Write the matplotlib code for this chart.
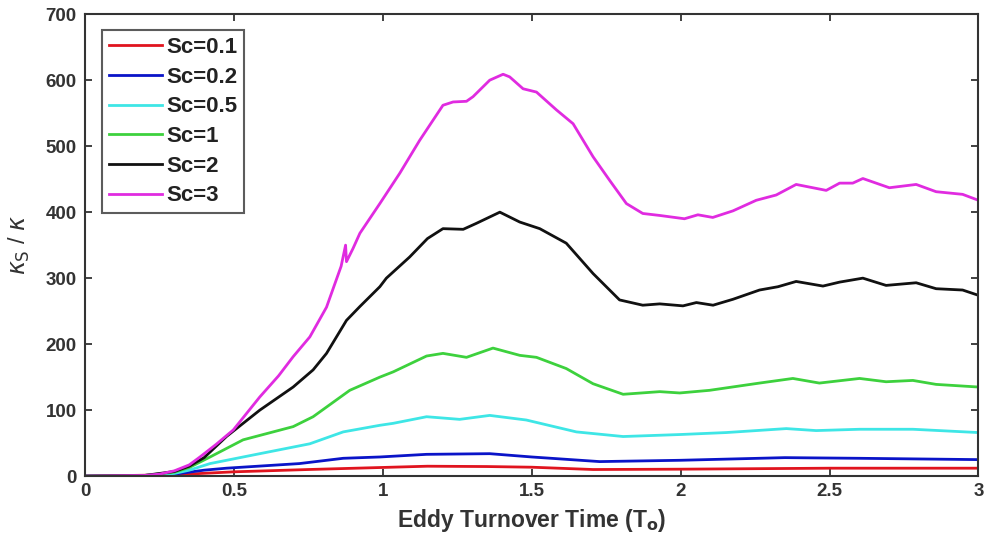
import matplotlib
matplotlib.use('Agg')
import matplotlib.pyplot as plt

plt.rcParams['font.family'] = ['Liberation Sans', 'DejaVu Sans']
plt.rcParams['mathtext.fontset'] = 'dejavusans'

# Sc = 0.1
t_01 = [0, 0.3, 0.5, 0.75, 0.99, 1.15, 1.35, 1.5, 1.706, 2.0, 2.5, 3.0]
k_01 = [0, 2, 6.5, 10, 13, 15, 14.5, 13.5, 10, 10.5, 12, 12]

# Sc = 0.2
t_02 = [0, 0.2, 0.3, 0.4, 0.475, 0.72, 0.867, 0.99, 1.147, 1.359, 1.5, 1.728, 2.0, 2.35, 2.6, 3.0]
k_02 = [0, 0.3, 3, 9, 12, 19, 27, 29, 33, 34, 29, 22, 24, 28, 27, 25]

# Sc = 0.5
t_05 = [0, 0.2, 0.3, 0.35, 0.42, 0.587, 0.755, 0.867, 0.99, 1.035, 1.147, 1.258, 1.359,
        1.482, 1.65, 1.807, 1.997, 2.153, 2.355, 2.455, 2.601, 2.78, 3.0]
k_05 = [0, 0.5, 4, 9, 19, 34, 49, 67, 77, 80, 90, 86, 92,
        85, 67, 60, 63, 66, 72, 69, 71, 71, 66]

# Sc = 1
t_1 = [0, 0.2, 0.3, 0.35, 0.42, 0.531, 0.699, 0.766, 0.889, 0.99, 1.035, 1.147, 1.202,
       1.281, 1.37, 1.46, 1.516, 1.616, 1.706, 1.807, 1.93, 1.997, 2.097, 2.265, 2.377,
       2.466, 2.601, 2.69, 2.78, 2.858, 3.0]
k_1 = [0, 1, 6, 13, 29, 55, 75, 90, 130, 150, 158, 182, 186,
       180, 194, 183, 180, 163, 140, 124, 128, 126, 130, 141, 148,
       141, 148, 143, 145, 139, 135]

# Sc = 2
t_2 = [0, 0.2, 0.3, 0.35, 0.4, 0.475, 0.587, 0.699, 0.766, 0.811, 0.878, 0.923, 0.99,
       1.012, 1.09, 1.15, 1.202, 1.27, 1.314, 1.393, 1.46, 1.527, 1.616, 1.706, 1.795,
       1.873, 1.93, 2.008, 2.053, 2.109, 2.176, 2.265, 2.327, 2.388, 2.478, 2.534, 2.612,
       2.69, 2.791, 2.858, 2.947, 3.0]
k_2 = [0, 1, 7, 15, 28, 60, 100, 135, 161, 186, 236, 257, 287,
       300, 332, 360, 375, 374, 383, 400, 385, 375, 353, 307, 267,
       259, 261, 258, 263, 259, 268, 282, 287, 295, 288, 294, 300,
       289, 293, 284, 282, 274]

# Sc = 3
t_3 = [0, 0.2, 0.25, 0.3, 0.35, 0.386, 0.44, 0.498, 0.587, 0.65, 0.699, 0.755, 0.811,
       0.86, 0.875, 0.878, 0.9, 0.923, 0.99, 1.057, 1.124, 1.202, 1.236, 1.281, 1.303,
       1.359, 1.404, 1.426, 1.471, 1.516, 1.583, 1.639, 1.706, 1.762, 1.818, 1.873, 1.93,
       2.013, 2.058, 2.108, 2.176, 2.254, 2.321, 2.388, 2.489, 2.534, 2.578, 2.612, 2.701,
       2.791, 2.858, 2.947, 3.0]
k_3 = [0, 1, 3, 8, 17, 29, 48, 70, 120, 152, 181, 211, 256,
       318, 350, 325, 345, 368, 413, 459, 509, 562, 567, 568, 575,
       600, 609, 605, 587, 582, 555, 534, 484, 448, 413, 398, 395,
       390, 396, 392, 402, 418, 426, 442, 433, 444, 444, 451, 437,
       442, 431, 427, 418]

series = [
    (t_01, k_01, 'Sc=0.1', '#e0141e'),
    (t_02, k_02, 'Sc=0.2', '#0a14c8'),
    (t_05, k_05, 'Sc=0.5', '#3ee6e6'),
    (t_1, k_1, 'Sc=1', '#3dd13d'),
    (t_2, k_2, 'Sc=2', '#111111'),
    (t_3, k_3, 'Sc=3', '#e02be0'),
]

fig = plt.figure(figsize=(9.85, 5.46), dpi=100)
ax = fig.add_axes([0.0863, 0.128, 0.907, 0.846])

for t, k, label, color in series:
    ax.plot(t, k, color=color, lw=2, label=label)

ax.set_xlim(0, 3)
ax.set_ylim(0, 700)
ax.set_xticks([0, 0.5, 1, 1.5, 2, 2.5, 3])
ax.set_xticklabels(['0', '0.5', '1', '1.5', '2', '2.5', '3'])
ax.set_yticks(range(0, 701, 100))

ax.tick_params(direction='in', length=5, width=1.3, top=True, right=True,
               labelsize=13.5, colors='#333333')
ax.tick_params(axis='x', pad=5)
ax.tick_params(axis='y', pad=6)
for lab in ax.get_xticklabels() + ax.get_yticklabels():
    lab.set_fontweight('bold')
for s in ax.spines.values():
    s.set_linewidth(1.5)
    s.set_color('#333333')

ax.set_xlabel(r'Eddy Turnover Time (T$_\mathbf{o}$)', fontsize=16.5, fontweight='bold',
              color='#333333', labelpad=5)
ax.set_ylabel(r'$\kappa_\mathrm{S}$ / $\kappa$', fontsize=17,
              color='#333333', labelpad=10)

leg = ax.legend(loc='upper left', bbox_to_anchor=(0.019, 0.965),
                prop={'weight': 'bold', 'size': 16}, frameon=True, fancybox=False,
                edgecolor='#333333', handlelength=2.4, handletextpad=0.2,
                labelspacing=0.39, borderpad=0.3, borderaxespad=0)
leg.get_frame().set_linewidth(1.5)
for txt in leg.get_texts():
    txt.set_color('#222222')

fig.savefig('out.png', dpi=100)
